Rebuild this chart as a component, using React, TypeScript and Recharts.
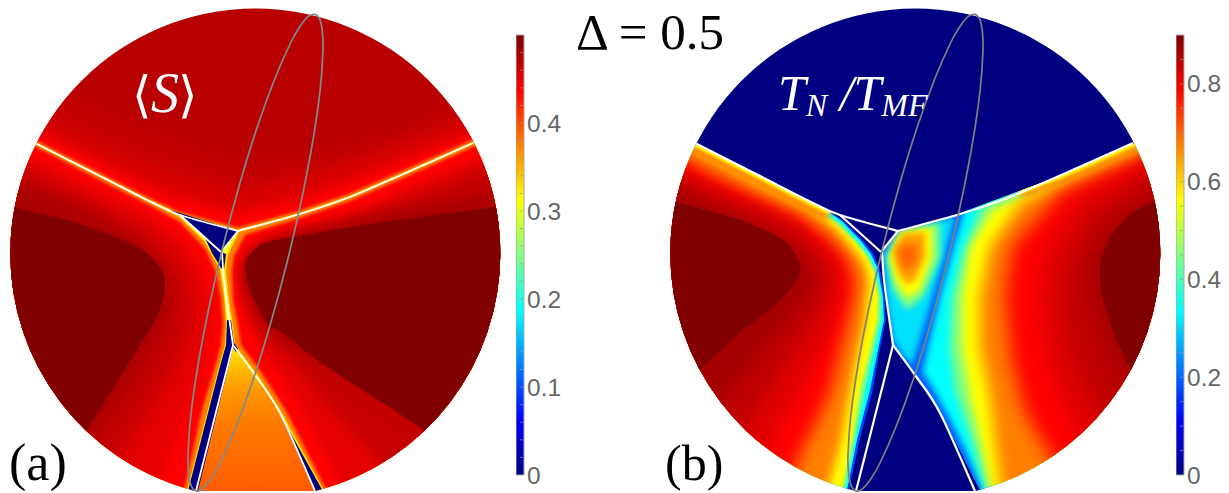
import React from "react";
import { ScatterChart, Scatter, XAxis, YAxis, BarChart, Bar } from "recharts";

type P = [number, number];

// ---- shared boundaries (picture units of one disc) ----
const ellipseOutline: P[] = [[315,14],[319.7,19],[322.3,31],[323,50],[320.2,89.6],[313,140],[301.8,198.5],[287.5,260.5],[271,322],[253.5,378.7],[236,426.8],[220,463],[210.5,479.3],[202.5,488.8],[196,491],[191.3,486],[188.7,474],[188,455],[190.8,415.4],[198,365],[209.2,306.5],[223.5,244.5],[240,183],[257.5,126.3],[275,78.2],[291,42],[300.5,25.7],[308.5,16.2],[315,14]];
const lineUpperLeft: P[] = [[36,143.5],[100,176],[147,200],[180,215],[238,231]];
const lineUpperRight: P[] = [[238,231],[300,214],[350,197],[417,168],[473,143]];
const lineInnerLeft: P[] = [[180,215],[221,252]];
const lineInnerRight: P[] = [[238,231],[221,252]];
const lineStem: P[] = [[222,252],[224,280],[228,310],[233,345]];
const lineLowerLeft: P[] = [[233,345],[196,491]];
const lineLowerRight: P[] = [[233,345],[255,375],[280,413],[315,491]];

// ---- panel (a): <S> ----
const aTopC4: P[] = [[-30,60],[60,90],[130,122],[200,150],[260,165],[330,152],[400,130],[470,98],[570,50],[570,520],[-30,520]];
const aTopDC: P[] = [[-30,80],[36,115],[100,145],[170,172],[237,190],[300,178],[350,162],[417,138],[473,115],[570,70],[570,520],[-30,520]];
const aTopRed: P[] = [[-30,100],[36,131],[100,163],[170,196],[237,214],[300,199],[350,182],[417,155],[473,132],[570,84],[570,520],[-30,520]];
const aTopOrange: P[] = [[-30,107],[36,140.5],[100,173],[147,197],[180,212],[238,227.5],[300,210.5],[350,193.5],[417,164.5],[473,139.5],[570,91],[570,520],[-30,520]];
const aTopYellow: P[] = [[-30,109],[36,142.5],[100,175],[147,199],[180,214],[238,230],[300,213],[350,196],[417,167],[473,142],[570,93],[570,520],[-30,520]];

const aLeftEdge: P[] = [[-30,110],[36,143.5],[100,176],[147,200],[180,215],[205,240],[212,253],[221,268],[225,297],[227,322],[226,345],[220,366],[188,491],[-30,520]];
const aLeftOrange: P[] = [[-30,111],[36,144.5],[100,177],[147,201],[179,217],[204,241],[211,254],[220,269],[224,297],[226,322],[225,345],[219,366],[187,491],[-30,520]];
const aLeftRed: P[] = [[-30,114],[36,147],[100,180],[147,204],[180,222],[206,250],[216,272],[221,298],[223,323],[221,345],[215,367],[202,410],[184,491],[-30,520]];
const aLeftE0: P[] = [[-30,130],[36,160],[100,193],[160,222],[185,243],[198,262],[207,285],[212,310],[210,340],[200,370],[185,410],[165,470],[150,520],[-30,520]];
const aLeftC0: P[] = [[-30,142],[36,175],[100,205],[145,230],[170,252],[185,275],[190,300],[188,330],[175,365],[155,400],[130,440],[110,470],[90,520],[-30,520]];
const aLeftA8: P[] = [[-30,158],[40,190],[100,218],[135,240],[160,265],[170,290],[165,320],[150,350],[125,390],[95,435],[60,520],[-30,520]];
const aLeftDark: P[] = [[-30,190],[13,207],[67,220],[130,243],[157,263],[165,286],[157,316],[133,356],[87,430],[30,520],[-30,520]];

const aRightEdge: P[] = [[238,231],[300,214],[350,197],[417,168],[473,143],[570,95],[570,520],[322,491],[279,412],[255,375],[233,345],[231,325],[227,300],[224,270],[226,254]];
const aRightOrange: P[] = [[570,96],[473,144],[417,169],[350,198],[300,215],[239,232],[228,255],[226,271],[229,300],[233,325],[235,345],[257,374],[281,411],[324,491],[570,520]];
const aRightRed: P[] = [[570,99],[473,147],[417,172],[350,201],[300,218],[245,235],[234,256],[232,272],[233,300],[238,325],[241,345],[261,372],[285,409],[328,493],[570,520]];
const aRightE0: P[] = [[570,118],[473,160],[417,185],[350,214],[300,229],[265,238],[250,248],[241,265],[242,295],[248,320],[258,345],[275,368],[300,405],[345,493],[570,520]];
const aRightC0: P[] = [[570,130],[473,172],[417,195],[350,222],[300,235],[270,243],[253,252],[243,266],[245,292],[254,318],[270,340],[295,365],[325,400],[375,455],[400,493],[570,520]];
const aRightA8: P[] = [[570,175],[495,192],[400,210],[300,231],[265,243],[250,255],[243,268],[246,292],[258,318],[278,338],[310,355],[370,388],[430,425],[520,490],[570,520]];
const aRightDark: P[] = [[570,196],[495,207],[383,222],[293,237],[267,242],[257,247],[245,263],[250,290],[267,323],[283,333],[317,360],[367,393],[423,430],[530,510],[570,520]];

const aWedge: P[] = [[233,345],[196,491],[196,495],[320,495],[315,491],[280,413],[255,375]];
const aTriangle: P[] = [[170,210],[238,231],[221,252],[183,218]];
const aTail: P[] = [[205,238],[221,252],[226,254],[224,270],[221,268],[212,253]];
const aBand: P[] = [[227,320],[231,320],[234,344],[197,495],[187,495],[220,366],[226,345]];
const aTip: P[] = [[231,338],[238,349],[236,352],[232,346]];
const aSliver: P[] = [[279,412],[315,491],[317,495],[325,495]];

// ---- panel (b): T_N / T_MF ----
const bLeftEdge: P[] = [[-30,110],[36,144],[100,176.5],[150,202],[170,212],[183,220],[203,240],[213,253],[220,268],[225,297],[226,320],[220,350],[213,390],[200,440],[188,495],[-30,520]];
const bLeftCyan: P[] = [[-30,111],[36,145],[100,177.5],[150,203],[170,213],[182,221],[201,241],[211,254],[218,269],[223,297],[224,320],[218,350],[210,390],[197,440],[186,495],[-30,520]];
const bLeftGreen: P[] = [[-30,112],[36,146],[100,178.5],[150,204],[168,215],[180,223],[199,243],[209,256],[216,271],[221,297],[221,320],[214,350],[205,390],[195,440],[184,495],[-30,520]];
const bLeftYellow: P[] = [[-30,113],[36,147],[100,179.5],[150,205],[165,216],[178,225],[197,244],[207,257],[214,272],[218,297],[217,320],[210,350],[200,390],[192,440],[181,495],[-30,520]];
const bLeftOrange: P[] = [[-30,118],[36,151],[100,185],[150,210],[175,229],[192,249],[203,262],[208,278],[206,300],[204,325],[197,355],[190,390],[181,440],[166,495],[-30,520]];
const bLeftRed: P[] = [[-30,128],[47,172],[100,198],[140,217],[168,238],[186,258],[195,280],[193,300],[186,330],[178,360],[170,392],[158,420],[142,450],[125,495],[-30,520]];
const bLeftE0: P[] = [[-30,140],[47,182],[100,205],[135,220],[165,245],[182,265],[180,300],[168,335],[145,385],[118,430],[90,495],[-30,520]];
const bLeftC0: P[] = [[-30,152],[47,193],[100,215],[130,228],[155,250],[168,268],[165,300],[145,335],[113,385],[85,430],[55,495],[-30,520]];
const bLeftA5: P[] = [[-30,165],[47,203],[100,225],[125,240],[148,262],[152,285],[130,318],[95,360],[60,405],[-30,500]];
const bLeftDark: P[] = [[-30,190],[16,202],[80,220],[123,240],[139,263],[137,280],[113,307],[80,333],[42,368],[-20,430],[-30,440]];
const bLeftRim: P[] = [[-30,110],[36,144],[100,176.5],[150,202],[170,212]];

const bRightEdge: P[] = [[238,231],[303,212],[400,176],[473,144],[570,95],[570,520],[322,495],[282,416],[255,375],[233,345],[225,293],[222,252]];
const bRightCyan: P[] = [[570,90],[473,140],[400,172],[306,205],[296,240],[282,290],[270,340],[263,372],[273,388],[287,413],[304,447],[325,495],[570,520]];
const bRightGreen: P[] = [[570,93],[473,143],[400,176],[322,205],[304,250],[292,297],[290,347],[295,390],[312,440],[328,495],[570,520]];
const bRightYellow: P[] = [[570,97],[473,146],[400,179],[332,210],[310,247],[302,297],[302,347],[310,397],[320,440],[332,495],[570,520]];
const bRightOrange: P[] = [[570,103],[473,151],[400,184],[360,203],[330,247],[320,297],[320,347],[330,397],[342,495],[570,520]];
const bRightRed: P[] = [[570,113],[480,158],[400,192],[352,247],[345,297],[352,363],[365,413],[385,447],[410,495],[570,520]];
const bRightE0: P[] = [[570,120],[482,165],[420,195],[385,245],[378,297],[385,355],[400,400],[420,440],[470,495],[570,520]];
const bRightC0: P[] = [[570,130],[487,175],[430,215],[407,260],[403,297],[408,347],[428,397],[447,420],[530,495],[570,520]];
const bRightA5: P[] = [[570,155],[495,195],[460,215],[435,245],[428,273],[435,313],[455,370],[490,430],[570,500]];
const bRightDark: P[] = [[570,170],[493,202],[467,217],[447,243],[440,273],[447,313],[470,368],[510,430],[570,480]];
const bRightRim: P[] = [[360,191],[400,176],[473,144],[570,95]];

const bPocketCyan: P[] = [[239,232],[295,216],[283,260],[270,305],[258,345],[252,365],[243,355],[233,340],[226,295],[224,254]];
const bPocketGreen: P[] = [[240,232],[280,222],[280,257],[263,297],[247,310],[233,290],[227,257]];
const bPocketYellow: P[] = [[240,232],[272,227],[272,257],[260,290],[247,298],[236,282],[229,257]];
const bPocketOrange: P[] = [[243,234],[265,232],[265,257],[255,280],[247,285],[238,272],[233,250]];
const bPocketHot: P[] = [[247,244],[258,245],[256,262],[248,272],[240,262],[238,248]];

// ---- colour bars ----
const barTopA = [0.5];
const barTopB = [0.9];
const ticksA = [0,0.02,0.04,0.06,0.08,0.1,0.12,0.14,0.16,0.18,0.2,0.22,0.24,0.26,0.28,0.3,0.32,0.34,0.36,0.38,0.4,0.42,0.44,0.46,0.48];
const labelsA = [0,0.1,0.2,0.3,0.4];
const ticksB = [0,0.05,0.1,0.15,0.2,0.25,0.3,0.35,0.4,0.45,0.5,0.55,0.6,0.65,0.7,0.75,0.8,0.85];
const labelsB = [0,0.2,0.4,0.6,0.8];
const jetOffsets = [0,0.11,0.125,0.375,0.5,0.625,0.75,0.875,1];
const jetColors = ["#000080","#0000f0","#0000ff","#00ffff","#80ff80","#ffff00","#ff8000","#ff0000","#800000"];

const title = "Δ = 0.5";

type Layer = { pts: P[]; fill?: string; stroke?: string; sw?: number; clip?: string; blur?: number; smooth?: boolean };

const DARK = "#800000";
const NAVY = "#000080";
const whiteLayers = (w: number): Layer[] => [
  { pts: lineUpperLeft, stroke: "#fff", sw: w, clip: "disc", smooth: true },
  { pts: lineUpperRight, stroke: "#fff", sw: w, clip: "disc", smooth: true },
  { pts: lineInnerLeft, stroke: "#fff", sw: w, clip: "disc" },
  { pts: lineInnerRight, stroke: "#fff", sw: w, clip: "disc" },
  { pts: lineStem, stroke: "#fff", sw: w, clip: "disc", smooth: true },
  { pts: lineLowerLeft, stroke: "#fff", sw: w, clip: "disc" },
  { pts: lineLowerRight, stroke: "#fff", sw: w, clip: "disc", smooth: true },
];

const bigDisc: P[] = [[-30,-30],[570,-30],[570,520],[-30,520]];

const layersA: Layer[] = [
  { pts: bigDisc, fill: "#b80000", clip: "disc" },
  { pts: aTopC4, fill: "#c40000", clip: "disc", blur: 10 },
  { pts: aTopDC, fill: "#dc0000", clip: "disc", blur: 8 },
  { pts: aTopRed, fill: "#ff0000", clip: "disc", blur: 5 },
  { pts: aTopOrange, fill: "#ff8000", clip: "disc", blur: 1.5 },
  { pts: aTopYellow, fill: "#ffff20", clip: "disc", blur: 0.6 },
  { pts: aLeftEdge, fill: "#ffe000", clip: "aL" },
  { pts: aLeftOrange, fill: "#ff8000", clip: "aL", blur: 0.6 },
  { pts: aLeftRed, fill: "#ff0000", clip: "aL", blur: 1.5 },
  { pts: aLeftE0, fill: "#e40000", clip: "aL", blur: 7 },
  { pts: aLeftC0, fill: "#c40000", clip: "aL", blur: 9 },
  { pts: aLeftA8, fill: "#a80000", clip: "aL", blur: 9 },
  { pts: aLeftDark, fill: DARK, clip: "aL", smooth: true },
  { pts: aRightEdge, fill: "#ffe000", clip: "aR" },
  { pts: aRightOrange, fill: "#ff8000", clip: "aR", blur: 0.6 },
  { pts: aRightRed, fill: "#ff0000", clip: "aR", blur: 1.5 },
  { pts: aRightE0, fill: "#e40000", clip: "aR", blur: 5 },
  { pts: aRightC0, fill: "#c40000", clip: "aR", blur: 7 },
  { pts: aRightA8, fill: "#a80000", clip: "aR", blur: 7 },
  { pts: aRightDark, fill: DARK, clip: "aR", smooth: true },
  { pts: aWedge, fill: "url(#wedge)", clip: "disc" },
  { pts: aTriangle, fill: NAVY, clip: "disc" },
  { pts: aTail, fill: NAVY, clip: "disc" },
  { pts: aBand, fill: NAVY, clip: "disc" },
  { pts: aTip, fill: NAVY, clip: "disc" },
  { pts: aSliver, fill: NAVY, clip: "disc" },
  ...whiteLayers(1.8),
  { pts: ellipseOutline, stroke: "#7f8a8e", sw: 1.7, smooth: true },
];

const layersB: Layer[] = [
  { pts: bigDisc, fill: NAVY, clip: "disc" },
  { pts: bLeftEdge, fill: "#0040ff", clip: "bL" },
  { pts: bLeftCyan, fill: "#00ffff", clip: "bL", blur: 0.6 },
  { pts: bLeftGreen, fill: "#80ff80", clip: "bL", blur: 0.8 },
  { pts: bLeftYellow, fill: "#ffff00", clip: "bL", blur: 1 },
  { pts: bLeftOrange, fill: "#ff8000", clip: "bL", blur: 5 },
  { pts: bLeftRed, fill: "#ff0000", clip: "bL", blur: 8 },
  { pts: bLeftE0, fill: "#e00000", clip: "bL", blur: 7 },
  { pts: bLeftC0, fill: "#c00000", clip: "bL", blur: 8 },
  { pts: bLeftA5, fill: "#a50000", clip: "bL", blur: 8 },
  { pts: bLeftRim, stroke: "#ff8000", sw: 18, clip: "bL", blur: 3 },
  { pts: bLeftRim, stroke: "#ffff00", sw: 6, clip: "bL", blur: 1.5 },
  { pts: bLeftDark, fill: DARK, clip: "bL", smooth: true },
  { pts: bRightEdge, fill: "#0060ff", clip: "bR" },
  { pts: bPocketCyan, fill: "#00e0ff", clip: "bR", blur: 3 },
  { pts: bPocketGreen, fill: "#80ff80", clip: "bR", blur: 3 },
  { pts: bPocketYellow, fill: "#ffff00", clip: "bR", blur: 3 },
  { pts: bPocketOrange, fill: "#ffa000", clip: "bR", blur: 3 },
  { pts: bPocketHot, fill: "#ff6000", clip: "bR", blur: 4 },
  { pts: bRightCyan, fill: "#00ffff", clip: "bR", blur: 3 },
  { pts: bRightGreen, fill: "#80ff80", clip: "bR", blur: 4 },
  { pts: bRightYellow, fill: "#ffff00", clip: "bR", blur: 4 },
  { pts: bRightOrange, fill: "#ff8000", clip: "bR", blur: 7 },
  { pts: bRightRed, fill: "#ff0000", clip: "bR", blur: 9 },
  { pts: bRightE0, fill: "#e00000", clip: "bR", blur: 9 },
  { pts: bRightC0, fill: "#c00000", clip: "bR", blur: 10 },
  { pts: bRightA5, fill: "#a50000", clip: "bR", blur: 10 },
  { pts: bRightRim, stroke: "#ff8000", sw: 14, clip: "bR", blur: 3 },
  { pts: bRightRim, stroke: "#ffff00", sw: 6, clip: "bR", blur: 1.5 },
  { pts: bRightDark, fill: DARK, clip: "bR", smooth: true },
  ...whiteLayers(2.2),
  { pts: ellipseOutline, stroke: "#808080", sw: 1.7, smooth: true },
];

const toPoints = (pts: P[]) => pts.map((p) => p.join(",")).join(" ");
const BLURS = [0.6, 0.8, 1, 1.5, 2, 2.5, 3, 4, 5, 6, 7, 8, 9, 10, 12];
const blurId = (b: number) => "blur" + String(b).replace(".", "_");

function Defs() {
  return (
    <svg width={0} height={0} style={{ position: "absolute" }}>
      <defs>
        {BLURS.map((b) => (
          <filter key={b} id={blurId(b)} filterUnits="userSpaceOnUse" x={-60} y={-60} width={680} height={620}>
            <feGaussianBlur stdDeviation={b} />
          </filter>
        ))}
        <clipPath id="page"><rect x={-40} y={-40} width={640} height={531} /></clipPath>
        <clipPath id="disc" clipPath="url(#page)"><circle cx={255.3} cy={253.5} r={245} /></clipPath>
        <clipPath id="aL" clipPath="url(#disc)"><polygon points={toPoints(aLeftEdge)} /></clipPath>
        <clipPath id="aR" clipPath="url(#disc)"><polygon points={toPoints(aRightEdge)} /></clipPath>
        <clipPath id="bL" clipPath="url(#disc)"><polygon points={toPoints(bLeftEdge)} /></clipPath>
        <clipPath id="bR" clipPath="url(#disc)"><polygon points={toPoints(bRightEdge)} /></clipPath>
        <linearGradient id="wedge" gradientUnits="userSpaceOnUse" x1={233} y1={345} x2={240} y2={491}>
          <stop offset="0" stopColor="#fff000" />
          <stop offset="0.12" stopColor="#ffc800" />
          <stop offset="0.3" stopColor="#ff9a00" />
          <stop offset="0.55" stopColor="#ff7a00" />
          <stop offset="1" stopColor="#ff5c00" />
        </linearGradient>
        <linearGradient id="jet" x1={0} y1={1} x2={0} y2={0}>
          {jetOffsets.map((o, i) => <stop key={o} offset={o} stopColor={jetColors[i]} />)}
        </linearGradient>
      </defs>
    </svg>
  );
}

function smoothD(p: { x: number; y: number }[]) {
  let d = `M${p[0].x},${p[0].y}`;
  for (let i = 0; i < p.length - 1; i++) {
    const a = p[Math.max(i - 1, 0)], b = p[i], c = p[i + 1], e = p[Math.min(i + 2, p.length - 1)];
    d += `C${b.x + (c.x - a.x) / 6},${b.y + (c.y - a.y) / 6} ${c.x - (e.x - b.x) / 6},${c.y - (e.y - b.y) / 6} ${c.x},${c.y}`;
  }
  return d;
}

function renderLayer(l: Layer) {
  return (props: any) => {
    const pp: { x: number; y: number }[] = props.points;
    const d = (l.smooth ? smoothD(pp) : "M" + pp.map((q) => `${q.x},${q.y}`).join("L")) + (l.fill ? "Z" : "");
    return (
      <path
        d={d}
        fill={l.fill ?? "none"}
        stroke={l.stroke ?? "none"}
        strokeWidth={l.sw}
        strokeLinejoin="round"
        clipPath={l.clip ? `url(#${l.clip})` : undefined}
        filter={l.blur ? `url(#${blurId(l.blur)})` : undefined}
      />
    );
  };
}

const noDot = () => <g />;

function Disc({ layers, left }: { layers: Layer[]; left: number }) {
  return (
    <div style={{ position: "absolute", left, top: 0 }}>
      <ScatterChart width={540} height={493} margin={{ top: 0, right: 0, bottom: 0, left: 0 }}>
        <XAxis type="number" dataKey="x" domain={[0, 540]} allowDataOverflow hide />
        <YAxis type="number" dataKey="y" domain={[0, 493]} allowDataOverflow reversed hide />
        {layers.map((l, i) => (
          <Scatter
            key={i}
            data={l.pts.map(([x, y]) => ({ x, y }))}
            line={renderLayer(l)}
            lineType="joint"
            shape={noDot}
            isAnimationActive={false}
            legendType="none"
          />
        ))}
      </ScatterChart>
    </div>
  );
}

function ColorBar({ left, top, ticks, labels }: { left: number; top: number; ticks: number[]; labels: number[] }) {
  const data = [{ name: "bar", value: top }];
  const Tick = (p: any) => {
    const v = p.payload.value;
    const lab = labels.includes(v);
    return (
      <g>
        {v !== 0 && <line x1={p.x - 12} x2={p.x - 9} y1={p.y} y2={p.y} stroke="#9a9a9a" strokeWidth={0.7} />}
        {lab && (
          <text x={p.x - 5} y={p.y} dy={8.5} fontSize={24.5} fontFamily="Liberation Sans" fill="#666">
            {v === 0 ? "0" : v.toFixed(1)}
          </text>
        )}
      </g>
    );
  };
  return (
    <div style={{ position: "absolute", left, top: 0 }}>
      <BarChart width={60} height={493} data={data} margin={{ top: 35, right: 0, bottom: 18, left: 0 }} barCategoryGap={0}>
        <XAxis dataKey="name" hide />
        <YAxis orientation="right" type="number" domain={[0, top]} ticks={ticks} interval={0} width={52} axisLine={false} tickLine={false} tick={Tick} />
        <Bar dataKey="value" fill="url(#jet)" stroke="#a8a8a8" strokeWidth={1} isAnimationActive={false} />
      </BarChart>
    </div>
  );
}

const serif = "'Liberation Serif', serif";

export default function App() {
  return (
    <div style={{ position: "absolute", left: 0, top: 0, width: 1229, height: 493, overflow: "hidden", background: "#fff" }}>
      <Defs />
      <Disc layers={layersA} left={0} />
      <Disc layers={layersB} left={660} />
      <ColorBar left={516} top={barTopA[0]} ticks={ticksA} labels={labelsA} />
      <ColorBar left={1176} top={barTopB[0]} ticks={ticksB} labels={labelsB} />
      <div style={{ position: "absolute", left: 576, top: 7, fontFamily: serif, fontSize: 51, lineHeight: "50px", color: "#000", whiteSpace: "nowrap" }}>{title}</div>
      <div style={{ position: "absolute", left: 132, top: 68, fontFamily: serif, fontSize: 50, lineHeight: "50px", color: "#fff", whiteSpace: "nowrap" }}>
        ⟨<i style={{ fontSize: 56, margin: "0 -1px" }}>S</i>⟩
      </div>
      <div style={{ position: "absolute", left: 778, top: 68, fontFamily: serif, fontSize: 50, lineHeight: "50px", color: "#fff", fontStyle: "italic", whiteSpace: "nowrap" }}>
        T<sub style={{ fontSize: 32, verticalAlign: "-6px", lineHeight: 0 }}>N</sub> /T<sub style={{ fontSize: 32, verticalAlign: "-6px", lineHeight: 0 }}>MF</sub>
      </div>
      <div style={{ position: "absolute", left: 9, top: 438, fontFamily: serif, fontSize: 52, lineHeight: "50px", color: "#000" }}>(a)</div>
      <div style={{ position: "absolute", left: 665, top: 438, fontFamily: serif, fontSize: 50, lineHeight: "50px", color: "#000" }}>(b)</div>
    </div>
  );
}
